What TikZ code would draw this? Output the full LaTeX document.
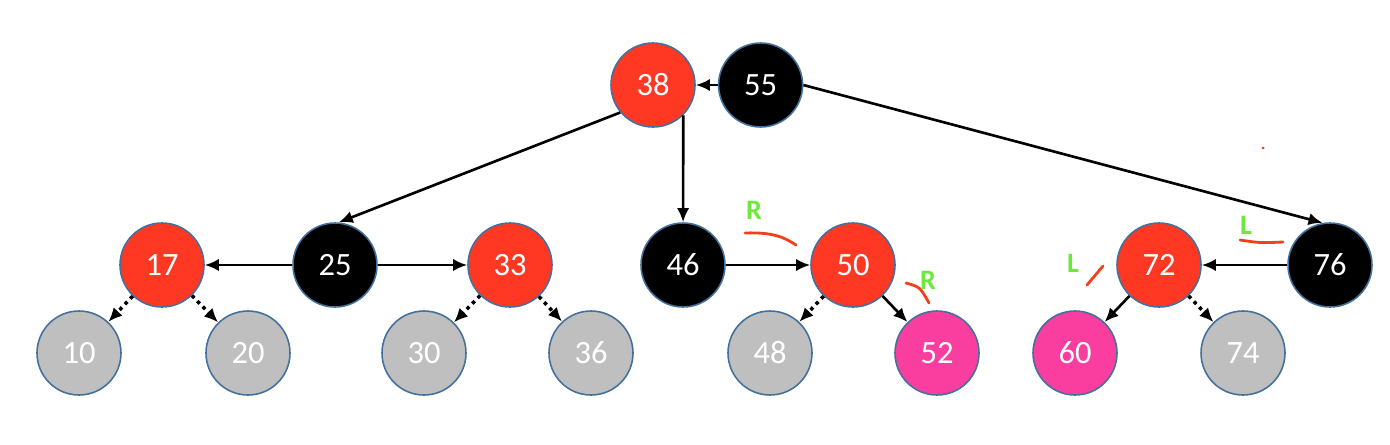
\documentclass[tikz,border=0pt]{standalone}
\usepackage{fontspec}
\setmainfont{Carlito}
\usetikzlibrary{arrows.meta,positioning}

\definecolor{nodered}{RGB}{255,56,36}
\definecolor{nodegrey}{RGB}{191,191,191}
\definecolor{nodepink}{RGB}{250,62,160}
\definecolor{rimblue}{RGB}{65,113,156}
\definecolor{turngreen}{RGB}{110,232,60}
\definecolor{penred}{RGB}{240,64,30}

\tikzset{
  tnode/.style={circle, draw=rimblue, line width=0.9pt, minimum size=1.68cm,
                inner sep=0pt, text=white, font=\fontsize{18.5}{22}\selectfont},
  rednode/.style={tnode, fill=nodered},
  blacknode/.style={tnode, fill=black},
  nilnode/.style={tnode, fill=nodegrey},
  pinknode/.style={tnode, fill=nodepink},
  link/.style={-{Latex[length=8pt,width=7pt]}, line width=1.5pt},
  nillink/.style={link, line width=2pt, dash pattern=on 2pt off 2.4pt},
  turnlabel/.style={text=turngreen, font=\fontsize{16}{18}\selectfont\bfseries},
  penstroke/.style={draw=penred, line width=1.6pt, line cap=round}
}

\begin{document}
\begin{tikzpicture}
  \useasboundingbox (0,0) rectangle (27.8,8.88);

  % top level
  \node (n38) [rednode] at (13.06,7.18) {38};
  \node (n55) [blacknode, right=0.44cm of n38] {55};

  % middle level
  \node (n25) [blacknode] at (6.70,3.58) {25};
  \node (n17) [rednode] at (3.24,3.58) {17};
  \node (n33) [rednode] at (10.20,3.58) {33};
  \node (n46) [blacknode] at (13.66,3.58) {46};
  \node (n50) [rednode] at (17.06,3.58) {50};
  \node (n72) [rednode] at (23.18,3.58) {72};
  \node (n76) [blacknode] at (26.60,3.58) {76};

  % bottom level
  \node (n10) [nilnode] at (1.58,1.82) {10};
  \node (n20) [nilnode] at (4.96,1.82) {20};
  \node (n30) [nilnode] at (8.48,1.82) {30};
  \node (n36) [nilnode] at (11.82,1.82) {36};
  \node (n48) [nilnode] at (15.40,1.82) {48};
  \node (n52) [pinknode] at (18.74,1.82) {52};
  \node (n60) [pinknode] at (21.50,1.82) {60};
  \node (n74) [nilnode] at (24.86,1.82) {74};

  \draw[link] (n55) -- (n38);
  \draw[link] (n38.220) -- (n25.85);
  \draw[link] (n38.-45) -- (n46);
  \draw[link] (n55.east) -- (n76.100);
  \draw[link] (n25) -- (n17);
  \draw[link] (n25) -- (n33);
  \draw[link] (n46) -- (n50);
  \draw[link] (n76) -- (n72);
  \draw[nillink] (n17) -- (n10);
  \draw[nillink] (n17) -- (n20);
  \draw[nillink] (n33) -- (n30);
  \draw[nillink] (n33) -- (n36);
  \draw[nillink] (n50) -- (n48);
  \draw[link] (n50) -- (n52);
  \draw[link] (n72) -- (n60);
  \draw[nillink] (n72) -- (n74);

  % hand-drawn rotation marks
  \node (turnR1) [turnlabel] at (15.08,4.68) {R};
  \node (turnR2) [turnlabel] at (18.56,3.28) {R};
  \node (turnL1) [turnlabel] at (24.92,4.38) {L};
  \node (turnL2) [turnlabel] at (21.46,3.62) {L};
  \draw[penstroke] (14.90,4.22) .. controls (15.50,4.24) and (15.70,4.12) .. (15.92,3.98);
  \draw[penstroke] (18.12,3.22) .. controls (18.40,3.14) .. (18.58,2.82);
  \draw[penstroke] (24.80,4.08) .. controls (25.20,4.02) .. (25.66,4.04);
  \draw[penstroke] (21.74,3.18) -- (22.06,3.56);
  \fill[penred] (25.26,5.92) circle (0.03);
\end{tikzpicture}
\end{document}
